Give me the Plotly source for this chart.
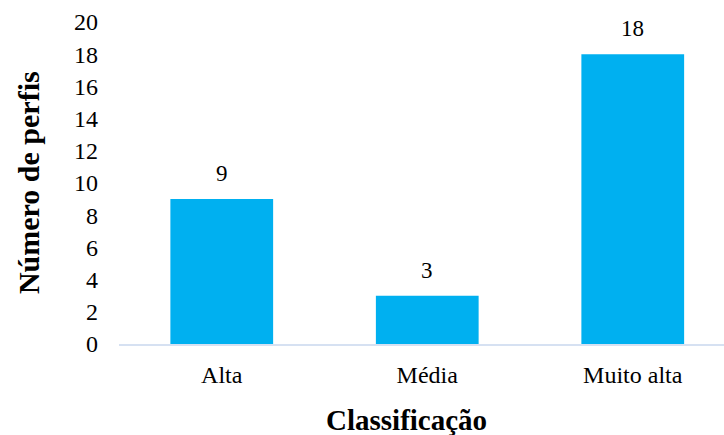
import plotly.graph_objects as go

categories = ["Alta", "Média", "Muito alta"]
values = [9, 3, 18]
y_ticks = [0, 2, 4, 6, 8, 10, 12, 14, 16, 18, 20]

font_family = "Liberation Serif, Times New Roman, serif"

fig = go.Figure(go.Bar(
    x=categories, y=values, width=0.5,
    marker=dict(color="#00B0F0", line=dict(width=0)),
    hoverinfo="x+y",
))

annotations = [
    dict(x=c, y=v, xref="x", yref="y", text=str(v), showarrow=False,
         yanchor="bottom", yshift=11,
         font=dict(family=font_family, size=23, color="#000000"))
    for c, v in zip(categories, values)
]
annotations.append(dict(
    x=-0.1503, y=0.5, xref="paper", yref="paper", xanchor="center", yanchor="middle",
    text="<b>Número de perfis</b>", textangle=-90, showarrow=False,
    font=dict(family=font_family, size=30, color="#000000"),
))
annotations.append(dict(
    x=0.475, y=-0.236, xref="paper", yref="paper", xanchor="center", yanchor="middle",
    text="<b>Classificação</b>", showarrow=False,
    font=dict(family=font_family, size=29, color="#000000"),
))

fig.update_layout(
    width=724, height=435,
    margin=dict(l=119, r=0, t=22, b=91),
    paper_bgcolor="white", plot_bgcolor="white",
    font=dict(family=font_family, size=24, color="#000000"),
    showlegend=False,
    annotations=annotations,
    xaxis=dict(
        range=[-0.5, 2.444], showgrid=False, zeroline=False, automargin=False,
        showline=True, linecolor="#D6E1F2", linewidth=2,
        ticks="", ticklabelstandoff=8,
        tickfont=dict(family=font_family, size=24),
    ),
    yaxis=dict(
        range=[0, 20], tickvals=y_ticks, showgrid=False, zeroline=False, automargin=False,
        showline=False, ticks="", ticklabelstandoff=20,
        tickfont=dict(family=font_family, size=24),
    ),
)

fig.write_html("out.html", config={"displayModeBar": False},
               post_script="document.body.style.margin='0';document.body.style.overflow='hidden';")
